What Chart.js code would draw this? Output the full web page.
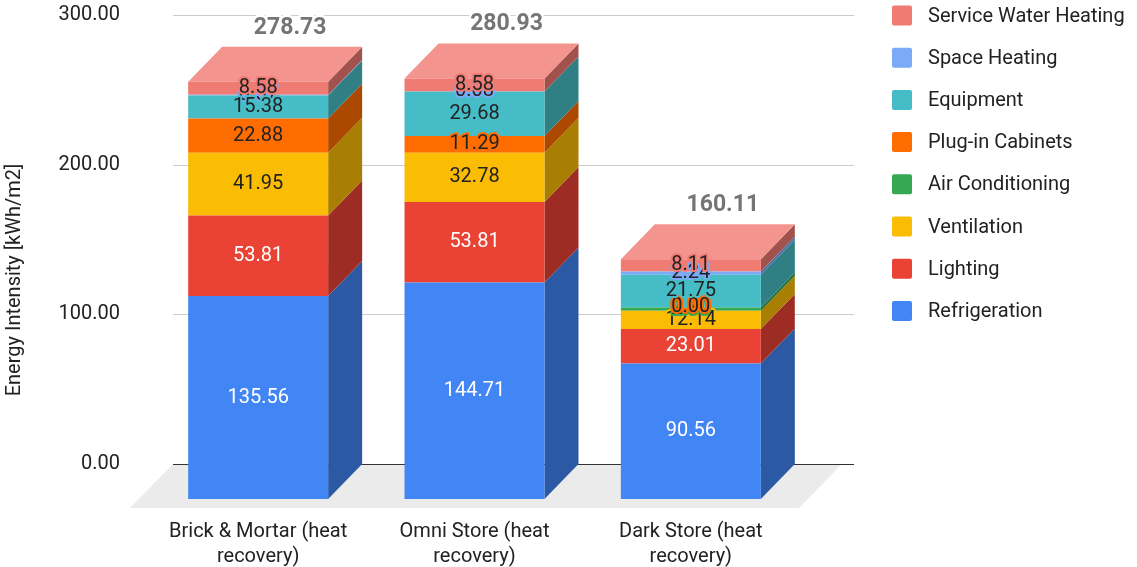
<!DOCTYPE html>
<html>
<head>
<meta charset="utf-8">
<title>Energy Intensity by Store Type</title>
<script src="https://cdn.jsdelivr.net/npm/chart.js@4/dist/chart.umd.min.js"></script>
<style>
  html, body { margin: 0; padding: 0; background: #ffffff; }
  #wrap { width: 1137px; height: 567px; }
</style>
</head>
<body>
<div id="wrap"><canvas id="chart" width="1137" height="567"></canvas></div>
<script>
// ---- data ----
const categories = [
  ['Brick & Mortar (heat', 'recovery)'],
  ['Omni Store (heat', 'recovery)'],
  ['Dark Store (heat', 'recovery)']
];
const refrigeration       = [135.56, 144.71, 90.56];
const lighting            = [53.81, 53.81, 23.01];
const ventilation         = [41.95, 32.78, 12.14];
const airConditioning     = [null, null, 2.30];
const plugInCabinets      = [22.88, 11.29, 0.00];
const equipment           = [15.38, 29.68, 21.75];
const spaceHeating        = [0.57, 0.08, 2.24];
const serviceWaterHeating = [8.58, 8.58, 8.11];

const seriesNames  = ['Refrigeration', 'Lighting', 'Ventilation', 'Air Conditioning',
                      'Plug-in Cabinets', 'Equipment', 'Space Heating', 'Service Water Heating'];
const seriesValues = [refrigeration, lighting, ventilation, airConditioning,
                      plugInCabinets, equipment, spaceHeating, serviceWaterHeating];
const seriesColors = ['#4285F4', '#EA4335', '#FBBC04', '#34A853',
                      '#FF6D01', '#46BDC6', '#7BAAF7', '#F07B72'];
const labelColors  = ['#ffffff', '#ffffff', '#222222', '#222222',
                      '#222222', '#222222', '#222222', '#222222'];

const yTickValues = [0, 100, 200, 300];
const axisTitle = 'Energy Intensity [kWh/m2]';

// ---- look ----
const FONT = 'Roboto, "Liberation Sans", Arial, sans-serif';
const DX = 34;          // depth of the bars, horizontal
const DY = 35;          // depth of the bars, vertical
const FLOOR_EXTRA = 9;  // floor reaches a little past the bar fronts

function rgb(hex) {
  const n = parseInt(hex.slice(1), 16);
  return [(n >> 16) & 255, (n >> 8) & 255, n & 255];
}
function shade(hex, f) {
  const [r, g, b] = rgb(hex);
  return `rgb(${Math.round(r * f)},${Math.round(g * f)},${Math.round(b * f)})`;
}
function tint(hex, t) {
  const [r, g, b] = rgb(hex);
  return `rgb(${Math.round(r + (255 - r) * t)},${Math.round(g + (255 - g) * t)},${Math.round(b + (255 - b) * t)})`;
}

function barProps(chart, di, j) {
  const el = chart.getDatasetMeta(di).data[j];
  return el.getProps(['x', 'y', 'base', 'width'], true);
}

// Floor, back-wall grid, side and top faces of the 3D columns
const depthPlugin = {
  id: 'depth',
  beforeDatasetsDraw(chart) {
    const ctx = chart.ctx;
    const { left, right, top, bottom } = chart.chartArea;
    const ys = chart.scales.y;

    // floor
    const fd = DY + FLOOR_EXTRA, fx = DX + FLOOR_EXTRA;
    ctx.save();
    ctx.fillStyle = '#ebebeb';
    ctx.beginPath();
    ctx.moveTo(left - 11, bottom);
    ctx.lineTo(right + 9, bottom);
    ctx.lineTo(right + 9 - fx, bottom + fd);
    ctx.lineTo(left - 11 - fx, bottom + fd);
    ctx.closePath();
    ctx.fill();

    // grid on the back wall
    yTickValues.forEach(v => {
      const py = Math.round(ys.getPixelForValue(v)) + 0.5;
      ctx.strokeStyle = v === 0 ? '#333333' : '#cccccc';
      ctx.lineWidth = 1;
      ctx.beginPath();
      ctx.moveTo(left - 11, py);
      ctx.lineTo(right + 21, py);
      ctx.stroke();
    });

    // side faces
    chart.data.datasets.forEach((ds, di) => {
      ds.data.forEach((v, j) => {
        if (v === null || v === 0) return;
        const p = barProps(chart, di, j);
        const br = p.x + p.width / 2;
        const fr = br - DX;
        ctx.fillStyle = shade(seriesColors[di], 0.67);
        ctx.beginPath();
        ctx.moveTo(fr, p.y + DY);
        ctx.lineTo(br, p.y);
        ctx.lineTo(br, p.base);
        ctx.lineTo(fr, p.base + DY);
        ctx.closePath();
        ctx.fill();
      });
    });

    // top faces on the highest segment of each stack
    categories.forEach((c, j) => {
      let best = null, bestDi = -1;
      chart.data.datasets.forEach((ds, di) => {
        const v = ds.data[j];
        if (v === null || v === 0) return;
        const p = barProps(chart, di, j);
        if (!best || p.y < best.y) { best = p; bestDi = di; }
      });
      if (!best) return;
      const bl = best.x - best.width / 2, br = best.x + best.width / 2;
      ctx.fillStyle = tint(seriesColors[bestDi], 0.2);
      ctx.beginPath();
      ctx.moveTo(bl - DX, best.y + DY);
      ctx.lineTo(bl, best.y);
      ctx.lineTo(br, best.y);
      ctx.lineTo(br - DX, best.y + DY);
      ctx.closePath();
      ctx.fill();
    });
    ctx.restore();

    // front faces are drawn by Chart.js, pushed forward
    ctx.save();
    ctx.translate(-DX, DY);
  },
  afterDatasetsDraw(chart) {
    const ctx = chart.ctx;
    ctx.restore();

    // value labels on the front faces
    ctx.save();
    ctx.font = `20px ${FONT}`;
    ctx.textAlign = 'center';
    ctx.textBaseline = 'middle';
    ctx.lineJoin = 'round';
    const order = [6, 0, 1, 2, 3, 4, 5, 7];
    order.forEach(di => {
      chart.data.datasets[di].data.forEach((v, j) => {
        if (v === null) return;
        const p = barProps(chart, di, j);
        const cx = p.x - DX;
        const cy = (p.y + p.base) / 2 + DY;
        const txt = v.toFixed(2);
        ctx.lineWidth = 4;
        ctx.strokeStyle = seriesColors[di];
        ctx.strokeText(txt, cx, cy);
        ctx.fillStyle = labelColors[di];
        ctx.fillText(txt, cx, cy);
      });
    });

    // stack totals
    ctx.font = `bold 23px ${FONT}`;
    categories.forEach((c, j) => {
      let total = 0, topY = Infinity, cx = 0;
      chart.data.datasets.forEach((ds, di) => {
        const v = ds.data[j];
        if (v === null) return;
        total += v;
        const p = barProps(chart, di, j);
        topY = Math.min(topY, p.y);
        cx = p.x;
      });
      const txt = total.toFixed(2);
      ctx.lineWidth = 5;
      ctx.strokeStyle = '#ffffff';
      ctx.strokeText(txt, cx - 2, topY - 19);
      ctx.fillStyle = '#757575';
      ctx.fillText(txt, cx - 2, topY - 19);
    });
    ctx.restore();
  },
  afterDraw(chart) {
    const ctx = chart.ctx;
    ctx.save();
    // legend, top entry is the last series
    ctx.font = `20px ${FONT}`;
    ctx.textAlign = 'left';
    ctx.textBaseline = 'middle';
    const n = seriesNames.length;
    for (let k = 0; k < n; k++) {
      const di = n - 1 - k;
      const cy = 15.5 + k * 42.2;
      ctx.fillStyle = seriesColors[di];
      ctx.beginPath();
      ctx.roundRect(892, cy - 10, 20, 20, 2);
      ctx.fill();
      ctx.fillStyle = '#222222';
      ctx.fillText(seriesNames[di], 928, cy + 1);
    }
    // value-axis title
    ctx.translate(15, 280);
    ctx.rotate(-Math.PI / 2);
    ctx.textAlign = 'center';
    ctx.fillStyle = '#222222';
    ctx.fillText(axisTitle, 0, 0);
    ctx.restore();
  }
};

const chart = new Chart(document.getElementById('chart'), {
  type: 'bar',
  data: {
    labels: categories,
    datasets: seriesNames.map((name, i) => ({
      label: name,
      data: seriesValues[i],
      backgroundColor: seriesColors[i],
      borderWidth: 0,
      barPercentage: 1,
      categoryPercentage: 0.647,
      clip: false
    }))
  },
  options: {
    responsive: false,
    animation: false,
    devicePixelRatio: 1,
    events: [],
    layout: { padding: { top: 15, right: 304, bottom: 0, left: 0 } },
    plugins: {
      legend: { display: false },
      tooltip: { enabled: false },
      title: { display: false }
    },
    scales: {
      x: {
        stacked: true,
        grid: { display: false, drawTicks: false },
        border: { display: false },
        ticks: {
          labelOffset: -DX,
          padding: 55,
          color: '#222222',
          font: { family: FONT, size: 20, lineHeight: 1.25 },
          maxRotation: 0,
          autoSkip: false
        },
        afterFit(scale) { scale.height = 103; }
      },
      y: {
        stacked: true,
        min: 0,
        max: 300,
        grid: { display: false, drawTicks: true, tickLength: 64 },
        border: { display: false },
        ticks: {
          stepSize: 100,
          padding: 0,
          color: '#222222',
          font: { family: FONT, size: 20 },
          callback: v => Number(v).toFixed(2)
        },
        afterFit(scale) { scale.width = 184; }
      }
    }
  },
  plugins: [depthPlugin]
});
</script>
</body>
</html>
